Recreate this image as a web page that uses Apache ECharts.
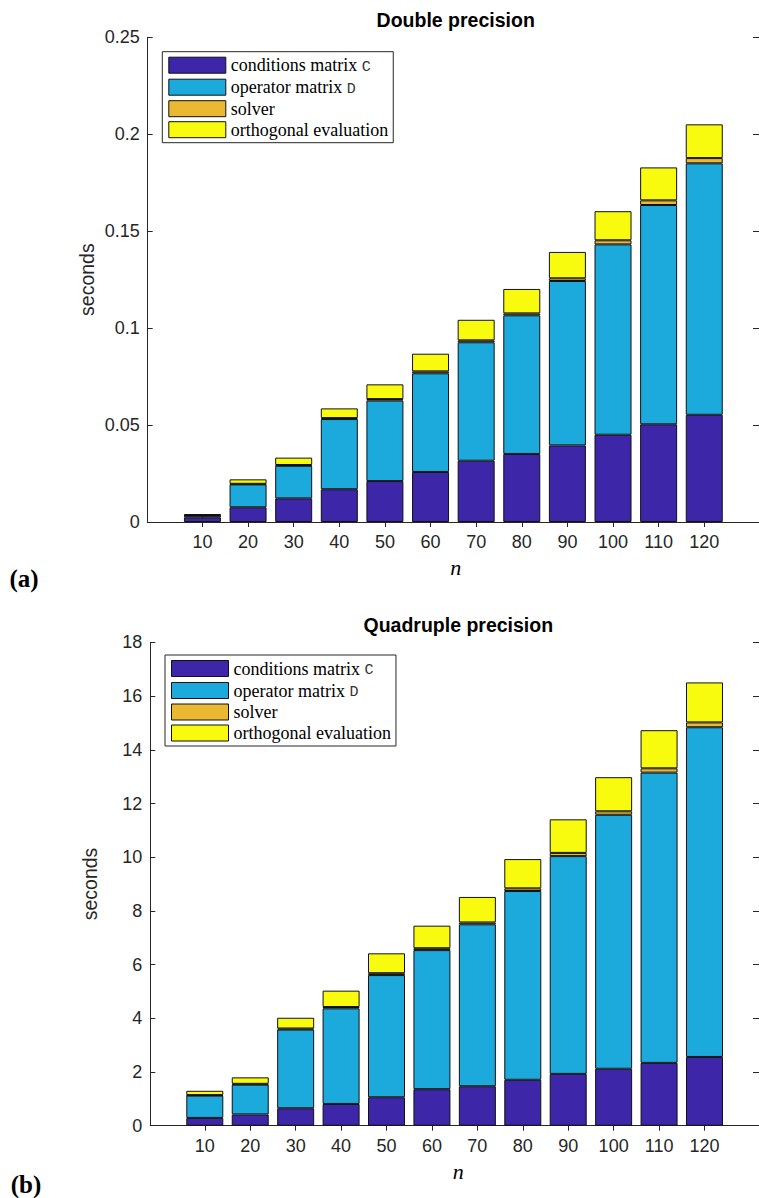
<!DOCTYPE html>
<html><head><meta charset="utf-8">
<script src="https://cdn.jsdelivr.net/npm/echarts@6/dist/echarts.min.js"></script>
<style>html,body{margin:0;padding:0;background:#fff}#c{width:759px;height:1198px}</style>
</head><body><div id="c"></div>
<script>
// ---- data ----
const nValues = [10, 20, 30, 40, 50, 60, 70, 80, 90, 100, 110, 120];
const seriesNames = ['conditions matrix C', 'operator matrix D', 'solver', 'orthogonal evaluation'];

const doubleC      = [0.0024, 0.0076, 0.0122, 0.0169, 0.0211, 0.0258, 0.0316, 0.0351, 0.0395, 0.0450, 0.0504, 0.0553];
const doubleD      = [0.0009, 0.0118, 0.0168, 0.0362, 0.0415, 0.0509, 0.0611, 0.0715, 0.0848, 0.0982, 0.1131, 0.1297];
const doubleSolver = [0.0002, 0.0003, 0.0004, 0.0005, 0.0008, 0.0010, 0.0010, 0.0010, 0.0014, 0.0021, 0.0024, 0.0027];
const doubleOrtho  = [0.0006, 0.0023, 0.0038, 0.0050, 0.0076, 0.0091, 0.0106, 0.0126, 0.0136, 0.0150, 0.0170, 0.0174];

const quadC      = [0.29, 0.42, 0.65, 0.81, 1.06, 1.36, 1.47, 1.71, 1.93, 2.12, 2.34, 2.56];
const quadD      = [0.83, 1.11, 2.93, 3.56, 4.55, 5.18, 6.03, 7.03, 8.11, 9.46, 10.81, 12.28];
const quadSolver = [0.02, 0.03, 0.04, 0.05, 0.07, 0.07, 0.07, 0.10, 0.12, 0.13, 0.16, 0.18];
const quadOrtho  = [0.16, 0.24, 0.40, 0.61, 0.74, 0.84, 0.95, 1.09, 1.25, 1.27, 1.42, 1.49];

const doubleYTicks = [0, 0.05, 0.1, 0.15, 0.2, 0.25];
const quadYTicks = [0, 2, 4, 6, 8, 10, 12, 14, 16, 18];

// ---- build ----
const colors = ['#3d26a8', '#1caadd', '#e9b931', '#f9fb0e'];
const axisColor = '#262626';
// padded category positions (step 2) so bars sit at n with MATLAB-like margins
const cats = [];
for (let v = -2; v <= 132; v += 2) cats.push(String(v));
const isTick = (i, val) => nValues.indexOf(+val) >= 0;
const toCat = arr => cats.map(c => { const k = nValues.indexOf(+c); return k >= 0 ? arr[k] : '-'; });

function xAxes(grid) {
  return [
    { type: 'category', gridIndex: grid, data: cats, boundaryGap: false, position: 'bottom',
      axisLine: { lineStyle: { color: axisColor, width: 1 } },
      axisTick: { inside: true, length: 5, interval: isTick, lineStyle: { color: axisColor } },
      axisLabel: { interval: isTick, margin: 11, fontFamily: 'Liberation Sans', fontSize: 18, color: axisColor },
      splitLine: { show: false } },
    { type: 'category', gridIndex: grid, data: cats, boundaryGap: false, position: 'top',
      axisLine: { lineStyle: { color: axisColor, width: 1 } },
      axisTick: { inside: true, length: 5, interval: isTick, lineStyle: { color: axisColor } },
      axisLabel: { show: false }, splitLine: { show: false } }
  ];
}
function yAxes(grid, ticks) {
  const base = { type: 'value', gridIndex: grid, min: ticks[0], max: ticks[ticks.length - 1],
    interval: ticks[1] - ticks[0], splitLine: { show: false } };
  return [
    Object.assign({}, base, { position: 'left',
      axisLine: { show: true, lineStyle: { color: axisColor, width: 1 } },
      axisTick: { show: true, inside: true, length: 5, lineStyle: { color: axisColor } },
      axisLabel: { margin: 8, fontFamily: 'Liberation Sans', fontSize: 18, color: axisColor } }),
    Object.assign({}, base, { position: 'right',
      axisLine: { show: true, lineStyle: { color: axisColor, width: 1 } },
      axisTick: { show: true, inside: true, length: 6, lineStyle: { color: axisColor } },
      axisLabel: { show: false } })
  ];
}
function makeSeries(arrs, xi, yi, stack) {
  return arrs.map((a, i) => ({
    name: seriesNames[i], type: 'bar', stack: stack, xAxisIndex: xi, yAxisIndex: yi,
    data: toCat(a), barWidth: 37,
    itemStyle: { color: colors[i], borderColor: '#111', borderWidth: 1 }
  }));
}
function legend(left, top) {
  return {
    left: left, top: top, orient: 'vertical', data: seriesNames,
    itemWidth: 57, itemHeight: 16, itemGap: 3, icon: 'rect',
    padding: [4, 5, 4, 6], borderColor: axisColor, borderWidth: 1, backgroundColor: '#fff',
    itemStyle: { borderColor: '#111', borderWidth: 1 },
    formatter: name => {
      const m = name.match(/^(.*) ([CD])$/);
      return m ? '{t|' + m[1] + ' }{m|' + m[2] + '}' : '{t|' + name + '}';
    },
    textStyle: { fontFamily: 'Liberation Serif', fontSize: 18, color: '#000', lineHeight: 16,
      rich: {
        t: { fontFamily: 'Liberation Serif', fontSize: 18, color: '#000', lineHeight: 16, verticalAlign: 'middle' },
        m: { fontFamily: 'Liberation Mono', fontSize: 15, color: '#333', lineHeight: 12, verticalAlign: 'middle', padding: [4, 0, 0, 0] }
      } }
  };
}
function txt(x, y, text, font, extra) {
  return Object.assign({ type: 'text', x: x, y: y,
    style: Object.assign({ text: text, align: 'center', verticalAlign: 'middle', fill: '#000' }, font) }, extra || {});
}

const option = {
  backgroundColor: '#fff',
  animation: false,
  grid: [
    { left: 147.7, top: 37.3, width: 616, height: 484.7 },
    { left: 150.3, top: 642.4, width: 616, height: 483.3 }
  ],
  xAxis: xAxes(0).concat(xAxes(1)),
  yAxis: yAxes(0, doubleYTicks).concat(yAxes(1, quadYTicks)),
  legend: [legend(162.3, 51.7), legend(165, 655)],
  series: makeSeries([doubleC, doubleD, doubleSolver, doubleOrtho], 0, 0, 'dbl')
    .concat(makeSeries([quadC, quadD, quadSolver, quadOrtho], 2, 2, 'quad')),
  graphic: [
    txt(455.7, 20, 'Double precision', { fontFamily: 'Liberation Sans', fontSize: 19.5, fontWeight: 'bold' }),
    txt(458.3, 625, 'Quadruple precision', { fontFamily: 'Liberation Sans', fontSize: 19.5, fontWeight: 'bold' }),
    txt(87, 279.6, 'seconds', { fontFamily: 'Liberation Sans', fontSize: 19.5, fill: axisColor }, { rotation: Math.PI / 2 }),
    txt(89.5, 884, 'seconds', { fontFamily: 'Liberation Sans', fontSize: 19.5, fill: axisColor }, { rotation: Math.PI / 2 }),
    txt(455.7, 567, 'n', { fontFamily: 'Liberation Serif', fontSize: 22, fontStyle: 'italic' }),
    txt(458.3, 1171, 'n', { fontFamily: 'Liberation Serif', fontSize: 22, fontStyle: 'italic' }),
    txt(24, 578, '(a)', { fontFamily: 'Liberation Serif', fontSize: 25, fontWeight: 'bold' }),
    txt(26, 1184, '(b)', { fontFamily: 'Liberation Serif', fontSize: 25, fontWeight: 'bold' })
  ]
};
const chart = echarts.init(document.getElementById('c'), null, { renderer: 'svg', width: 759, height: 1198 });
chart.setOption(option);
</script></body></html>
